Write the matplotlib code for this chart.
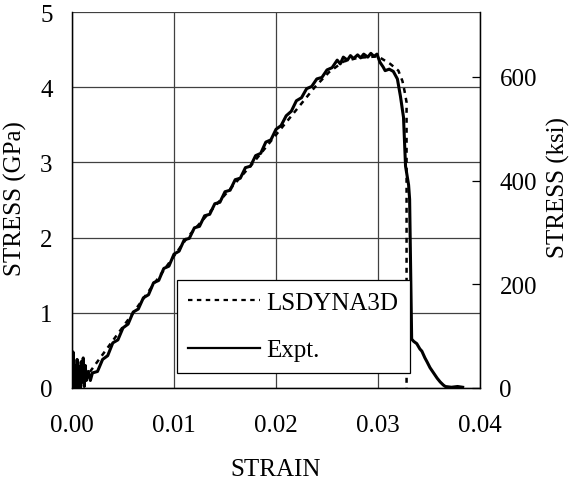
import matplotlib
matplotlib.use("Agg")
import matplotlib.pyplot as plt

# ── Data (strain, stress in GPa) ─────────────────────────────────────────────
expt_strain = [
    0.0000, 0.0001, 0.0002, 0.0003, 0.0004, 0.0005, 0.0006, 0.0007, 0.0008,
    0.0009, 0.0010, 0.0011, 0.0012, 0.0013, 0.0014, 0.0016, 0.0018, 0.0020,
    0.0025, 0.0030, 0.0035, 0.0040, 0.0045, 0.0050, 0.0055, 0.0060, 0.0065,
    0.0070, 0.0075, 0.0080, 0.0085, 0.0090, 0.0095, 0.0100, 0.0105, 0.0110,
    0.0115, 0.0120, 0.0125, 0.0130, 0.0135, 0.0140, 0.0145, 0.0150, 0.0155,
    0.0160, 0.0165, 0.0170, 0.0175, 0.0180, 0.0185, 0.0190, 0.0195, 0.0200,
    0.0205, 0.0210, 0.0215, 0.0220, 0.0225, 0.0230, 0.0235, 0.0240, 0.0245,
    0.0250, 0.0255, 0.0260, 0.0263, 0.0266, 0.0270, 0.0273, 0.0276, 0.0280,
    0.0283, 0.0286, 0.0290, 0.0293, 0.0296, 0.0299, 0.0302, 0.0305, 0.0307,
    0.0311, 0.0315, 0.0319, 0.0322, 0.0325, 0.0327, 0.0330, 0.0331, 0.0332,
    0.0333, 0.0335, 0.0338, 0.0341, 0.0343, 0.0346, 0.0348, 0.0351, 0.0354,
    0.0358, 0.0361, 0.0364, 0.0366, 0.0372, 0.0378, 0.0383,
]
expt_gpa = [
    0.00, 0.48, 0.02, 0.30, 0.00, 0.38, 0.05, 0.28, 0.00,
    0.35, 0.08, 0.40, 0.02, 0.30, 0.10, 0.22, 0.10, 0.20,
    0.22, 0.38, 0.43, 0.60, 0.64, 0.80, 0.85, 1.01, 1.05,
    1.20, 1.24, 1.40, 1.43, 1.59, 1.62, 1.78, 1.82, 1.97,
    1.99, 2.13, 2.15, 2.29, 2.31, 2.45, 2.47, 2.61, 2.63,
    2.77, 2.79, 2.93, 2.95, 3.09, 3.12, 3.27, 3.30, 3.44,
    3.49, 3.62, 3.68, 3.82, 3.86, 3.98, 4.01, 4.11, 4.13,
    4.23, 4.26, 4.36, 4.31, 4.40, 4.36, 4.42, 4.38, 4.43,
    4.39, 4.44, 4.40, 4.45, 4.41, 4.44, 4.33, 4.27, 4.22,
    4.24, 4.21, 4.11, 3.88, 3.60, 2.95, 2.70, 2.51, 1.58,
    0.65, 0.62, 0.59, 0.52, 0.49, 0.40, 0.35, 0.27, 0.21,
    0.13, 0.08, 0.04, 0.02, 0.01, 0.02, 0.01,
]

lsdyna_strain = [0.0006, 0.0060, 0.0113, 0.0178, 0.0202, 0.0238, 0.0252,
                 0.0266, 0.0280, 0.0300, 0.0312, 0.0320, 0.0324, 0.0326,
                 0.0328, 0.0328]
lsdyna_gpa = [0.00, 1.00, 2.00, 3.00, 3.40, 4.00, 4.20,
              4.34, 4.39, 4.41, 4.31, 4.22, 4.08, 3.95,
              3.80, 0.00]

x_ticks = [0.00, 0.01, 0.02, 0.03, 0.04]
gpa_ticks = [0, 1, 2, 3, 4, 5]
ksi_ticks = [0, 200, 400, 600]
GPA_PER_KSI = 0.006895

FS = 18
plt.rcParams["font.family"] = ["Liberation Serif", "DejaVu Serif"]

fig = plt.figure(figsize=(5.72, 4.89), dpi=100)
ax = fig.add_axes([72 / 572, 1 - 389 / 489, 408 / 572, 376 / 489])

ax.plot(expt_strain, expt_gpa, color="black", lw=2.2, label="Expt.", zorder=3)
ax.plot(lsdyna_strain, lsdyna_gpa, color="black", lw=1.8,
        dashes=(2.0, 2.0), label="LSDYNA3D", zorder=4)

ax.set_xlim(0, 0.04)
ax.set_ylim(0, 5)
ax.set_xticks(x_ticks)
ax.set_xticklabels([f"{v:.2f}" for v in x_ticks])
ax.set_yticks(gpa_ticks)
ax.grid(True, color="#404040", lw=0.9)
ax.set_axisbelow(True)
ax.tick_params(axis="x", length=0, pad=19, labelsize=FS)
ax.tick_params(axis="y", length=0, pad=14, labelsize=FS)
ax.spines["top"].set_visible(False)
for s in ("left", "bottom", "right"):
    ax.spines[s].set_linewidth(1.0)

ax2 = ax.twinx()
ax2.set_ylim(0, 5 / GPA_PER_KSI)
ax2.set_yticks(ksi_ticks)
ax2.tick_params(axis="y", direction="in", length=6, width=0.9,
                pad=14, labelsize=FS)
ax2.spines["top"].set_visible(False)

handles, labels = ax.get_legend_handles_labels()
leg = ax.legend(handles[::-1], labels[::-1], loc="upper left",
                bbox_to_anchor=(0.2566, 0.287), fontsize=FS,
                handlelength=2.9, handletextpad=0.25, borderpad=0.45,
                labelspacing=1.0, fancybox=False, framealpha=1,
                edgecolor="black", borderaxespad=0)
leg.get_frame().set_linewidth(0.9)
for line in leg.get_lines():
    line.set_linewidth(1.6)

fig.text(276 / 572, 1 - 470 / 489, "STRAIN", fontsize=FS,
         ha="center", va="center")
fig.text(15 / 572, 1 - 199 / 489, "STRESS (GPa)", fontsize=FS,
         ha="center", va="center", rotation=90)
fig.text(558 / 572, 1 - 188 / 489, "STRESS (ksi)", fontsize=FS,
         ha="center", va="center", rotation=90)

fig.savefig("out.png", dpi=100)
